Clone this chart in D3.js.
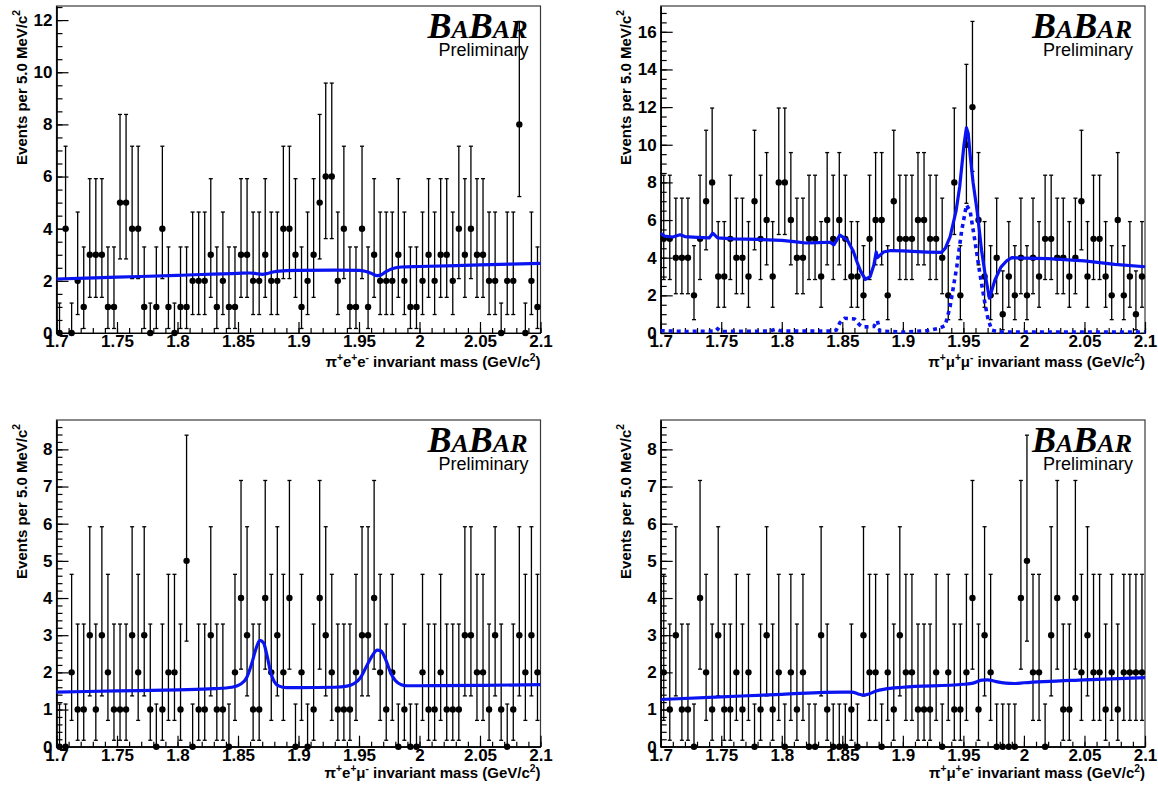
<!DOCTYPE html>
<html><head><meta charset="utf-8">
<script src="https://cdn.jsdelivr.net/npm/d3@7"></script>
<style>body{margin:0;background:#fff}</style>
</head><body><svg id="c" width="1158" height="791"></svg>
<script>
// ---------- data ----------
const massRange = [1.7, 2.1];
const binWidth = 0.005;
const binCenters = d3.range(80).map(i => massRange[0] + binWidth * (i + 0.5));
const xTicks = [1.7, 1.75, 1.8, 1.85, 1.9, 1.95, 2.0, 2.05, 2.1];

const countsEE = [0,4,0,2,1,3,3,3,1,1, 5,5,4,4,1,0,1,4,1,0, 1,1,2,2,2,3,1,2,1,1, 3,3,2,2,3,2,2,4,4,3,
                  1,2,3,5,6,6,2,4,1,1, 4,1,3,2,2,2,3,2,1,1, 2,3,2,3,3,2,4,3,4,3, 3,2,2,0,2,2,8,0,2,1];
const countsMM = [5,5,4,4,4,2,5,7,8,3, 3,5,4,4,3,7,5,6,3,8, 8,6,4,4,5,5,3,6,5,6, 5,3,3,2,5,6,6,2,7,5,
                  5,5,6,6,5,5,4,2,8,2, 10,12,6,3,2,4,1,3,2,4, 2,4,3,5,5,4,4,3,4,7, 3,5,5,3,2,6,2,3,1,3];
const countsEM = [0,0,2,1,1,3,1,3,2,1, 1,1,3,2,3,1,0,1,2,2, 1,5,0,1,1,3,1,1,0,2, 4,3,1,1,4,2,3,2,4,0,
                  2,0,1,4,3,2,1,1,1,2, 3,3,4,2,1,2,0,1,0,0, 2,1,1,2,1,1,1,3,3,2, 2,1,3,1,0,1,3,2,3,2];
const countsME = [2,1,3,1,1,0,4,2,1,3, 1,1,2,1,2,0,1,3,1,2, 0,2,1,2,0,0,3,1,0,0, 0,1,0,3,2,2,0,2,1,3,
                  2,2,1,1,1,2,0,2,1,1, 2,4,1,3,2,0,0,0,0,4, 5,2,2,0,3,4,1,1,4,2, 3,2,2,1,2,1,2,2,2,2];

// Poisson 68% interval edges for n = 0..12
const poissonLo = [0, 0.173, 0.708, 1.367, 2.086, 2.840, 3.620, 4.419, 5.232, 6.057, 6.891, 7.734, 8.585];
const poissonHi = [1.148, 3.300, 4.638, 5.918, 7.163, 8.382, 9.584, 10.77, 11.95, 13.11, 14.27, 15.42, 16.55];

const fitEE = [[1.7,2.07],[1.75,2.14],[1.8,2.21],[1.85,2.29],[1.86,2.30],[1.865,2.28],[1.87,2.25],[1.875,2.29],
  [1.88,2.35],[1.89,2.39],[1.9,2.4],[1.93,2.41],[1.95,2.4],[1.955,2.37],[1.96,2.29],[1.965,2.2],[1.968,2.22],
  [1.972,2.34],[1.978,2.47],[1.985,2.53],[2.0,2.55],[2.05,2.61],[2.1,2.67]];
const fitMM = [[1.7,5.3],[1.703,5.15],[1.71,5.1],[1.716,5.22],[1.72,5.12],[1.73,5.08],[1.74,5.05],[1.743,5.3],
  [1.747,5.05],[1.76,5.0],[1.78,4.97],[1.8,4.92],[1.81,4.85],[1.82,4.78],[1.83,4.8],[1.84,4.82],[1.843,4.68],
  [1.848,5.2],[1.854,4.95],[1.859,4.35],[1.862,3.8],[1.865,3.3],[1.869,2.85],[1.873,3.0],[1.876,3.6],[1.878,4.3],
  [1.879,4.0],[1.884,4.3],[1.89,4.38],[1.9,4.36],[1.92,4.3],[1.932,4.28],[1.935,4.5],[1.939,5.1],[1.944,6.5],
  [1.947,7.8],[1.9505,10.0],[1.9525,10.9],[1.954,10.6],[1.9555,9.5],[1.958,8.0],[1.9615,6.4],[1.965,4.4],
  [1.968,3.1],[1.9715,1.85],[1.976,2.8],[1.981,3.5],[1.986,3.85],[1.99,4.0],[2.0,3.98],[2.02,3.95],[2.05,3.83],
  [2.075,3.65],[2.1,3.52]];
const sigMM = [[1.7,0.12],[1.72,0.08],[1.745,0.1],[1.747,0.22],[1.75,0.08],[1.79,0.1],[1.795,0.2],[1.8,0.1],
  [1.84,0.1],[1.845,0.15],[1.848,0.55],[1.852,0.78],[1.86,0.75],[1.864,0.45],[1.867,0.32],[1.876,0.35],[1.879,0.65],
  [1.881,0.1],[1.9,0.05],[1.92,0.12],[1.93,0.25],[1.935,0.4],[1.939,1.4],[1.9445,3.5],[1.9485,5.4],[1.9525,6.8],
  [1.9555,6.5],[1.9595,4.9],[1.9635,3.2],[1.968,1.5],[1.9705,0.7],[1.9735,0.15],[1.98,0.05],[2.1,0.05]];
const fitEM = [[1.7,1.47],[1.75,1.5],[1.8,1.53],[1.83,1.56],[1.845,1.6],[1.852,1.68],[1.857,1.85],[1.861,2.2],
  [1.865,2.65],[1.868,2.86],[1.871,2.8],[1.874,2.45],[1.877,2.0],[1.88,1.75],[1.884,1.63],[1.89,1.59],[1.9,1.59],
  [1.93,1.6],[1.94,1.63],[1.946,1.7],[1.951,1.85],[1.956,2.15],[1.961,2.45],[1.965,2.6],[1.968,2.58],[1.972,2.35],
  [1.976,2.0],[1.98,1.78],[1.985,1.67],[1.99,1.64],[2.0,1.64],[2.05,1.65],[2.1,1.67]];
const fitME = [[1.7,1.27],[1.75,1.34],[1.8,1.41],[1.85,1.47],[1.858,1.47],[1.863,1.42],[1.867,1.39],[1.872,1.42],
  [1.878,1.5],[1.885,1.55],[1.9,1.6],[1.95,1.68],[1.958,1.71],[1.965,1.79],[1.97,1.8],[1.977,1.75],[1.985,1.71],
  [1.992,1.7],[2.0,1.72],[2.05,1.8],[2.1,1.86]];

const yTitle = [["Events per 5.0 MeV/c",""],["2","sup"]];
const xTitleEE = [["π",""],["+","sup"],["e",""],["+","sup"],["e",""],["-","sup"],[" invariant mass (GeV/c",""],["2","sup"],[")",""]];
const xTitleMM = [["π",""],["+","sup"],["μ",""],["+","sup"],["μ",""],["-","sup"],[" invariant mass (GeV/c",""],["2","sup"],[")",""]];
const xTitleEM = [["π",""],["+","sup"],["e",""],["+","sup"],["μ",""],["-","sup"],[" invariant mass (GeV/c",""],["2","sup"],[")",""]];
const xTitleME = [["π",""],["+","sup"],["μ",""],["+","sup"],["e",""],["-","sup"],[" invariant mass (GeV/c",""],["2","sup"],[")",""]];

// ---------- layout ----------
const panels = [
  {left:56.5, right:540.5, top:6, bottom:333, ymax:12.54, major:2, minor:0.5, counts:countsEE, fit:fitEE, sig:null, xt:xTitleEE, xtY:367, smooth:true},
  {left:660.7, right:1145, top:6, bottom:333, ymax:17.37, major:2, minor:0.5, counts:countsMM, fit:fitMM, sig:sigMM, xt:xTitleMM, xtY:367, smooth:false},
  {left:56.5, right:540.5, top:420, bottom:746.7, ymax:8.79, major:1, minor:0.2, counts:countsEM, fit:fitEM, sig:null, xt:xTitleEM, xtY:778, smooth:true},
  {left:660.7, right:1145, top:420, bottom:746.7, ymax:8.79, major:1, minor:0.2, counts:countsME, fit:fitME, sig:null, xt:xTitleME, xtY:778, smooth:true}
];

const svg = d3.select('#c');
const SANS = "'Liberation Sans', Arial, Helvetica, sans-serif";
const SERIF = "'Liberation Serif', 'Times New Roman', serif";
const BLUE = "#0a14f0";

function richText(sel, tokens, size) {
  let shifted = false;
  tokens.forEach(([t, kind]) => {
    const ts = sel.append('tspan').text(t);
    if (kind === 'sup') {
      ts.attr('font-size', size * 0.68).attr('dy', shifted ? 0 : -size * 0.42);
      shifted = true;
    } else {
      if (shifted) ts.attr('dy', size * 0.42);
      shifted = false;
    }
  });
}

panels.forEach(p => {
  const x = d3.scaleLinear().domain(massRange).range([p.left, p.right]);
  const y = d3.scaleLinear().domain([0, p.ymax]).range([p.bottom, p.top]);
  const g = svg.append('g');

  // frame
  g.append('rect').attr('x', p.left).attr('y', p.top)
    .attr('width', p.right - p.left).attr('height', p.bottom - p.top)
    .attr('fill', 'none').attr('stroke', '#3a3a3a').attr('stroke-width', 1.2);

  // logo (under data)
  const logo = g.append('text').attr('x', p.right - 13).attr('y', p.top + 31.5)
    .attr('text-anchor', 'end').attr('font-family', SERIF).attr('font-style', 'italic')
    .attr('font-weight', 'bold').attr('fill', '#000');
  [["B",36],["A",26],["B",36],["A",26],["R",26]].forEach(([c, s]) => logo.append('tspan').attr('font-size', s).text(c));
  g.append('text').attr('x', p.right - 12).attr('y', p.top + 49.5).attr('text-anchor', 'end')
    .attr('font-family', SANS).attr('font-size', 18).attr('fill', '#000').text('Preliminary');

  // y axis
  const yMajor = d3.range(0, p.ymax + 1e-9, p.major);
  const yMinor = d3.range(0, p.ymax + 1e-9, p.minor);
  const ya = g.append('g').attr('transform', `translate(${p.left},0)`);
  ya.call(d3.axisLeft(y).tickValues(yMinor).tickSizeInner(-6).tickSizeOuter(0).tickFormat(''));
  const yb = g.append('g').attr('transform', `translate(${p.left},0)`);
  yb.call(d3.axisLeft(y).tickValues(yMajor).tickSizeInner(-12).tickSizeOuter(0).tickPadding(4).tickFormat(d3.format('d')));
  [ya, yb].forEach(s => { s.select('.domain').attr('stroke', '#000').attr('stroke-width', 1.2); s.selectAll('line').attr('stroke', '#000').attr('stroke-width', 1.2); });
  yb.selectAll('text').attr('font-family', SANS).attr('font-weight', 'bold').attr('font-size', 17).attr('fill', '#000');

  // x axis
  const xMinor = d3.range(0, 41).map(i => massRange[0] + i * 0.01);
  const xa = g.append('g').attr('transform', `translate(0,${p.bottom})`);
  xa.call(d3.axisBottom(x).tickValues(xMinor).tickSizeInner(-5).tickSizeOuter(0).tickFormat(''));
  const xb = g.append('g').attr('transform', `translate(0,${p.bottom})`);
  xb.call(d3.axisBottom(x).tickValues(xTicks).tickSizeInner(-11).tickSizeOuter(0).tickPadding(2)
    .tickFormat(d => String(+d.toFixed(2))));
  [xa, xb].forEach(s => { s.select('.domain').attr('stroke', '#000').attr('stroke-width', 1.2); s.selectAll('line').attr('stroke', '#000').attr('stroke-width', 1.2); });
  xb.selectAll('text').attr('font-family', SANS).attr('font-weight', 'bold').attr('font-size', 17).attr('fill', '#000');

  // titles
  const yt = g.append('text').attr('transform', `translate(${p.left - 30},${p.top + 4}) rotate(-90)`)
    .attr('text-anchor', 'end').attr('font-family', SANS).attr('font-weight', 'bold').attr('font-size', 15).attr('fill', '#000');
  richText(yt, yTitle, 15);
  const xt = g.append('text').attr('x', p.right).attr('y', p.xtY).attr('text-anchor', 'end')
    .attr('font-family', SANS).attr('font-weight', 'bold').attr('font-size', 15).attr('fill', '#000');
  richText(xt, p.xt, 15);

  // data points with Poisson error bars
  const pts = g.append('g');
  p.counts.forEach((n, i) => {
    const cx = x(binCenters[i]);
    const y1 = y(poissonLo[n]), y2 = y(poissonHi[n]);
    pts.append('line').attr('x1', cx).attr('x2', cx).attr('y1', y1).attr('y2', y2).attr('stroke', '#000').attr('stroke-width', 1.3);
    pts.append('line').attr('x1', cx - 2).attr('x2', cx + 2).attr('y1', y2).attr('y2', y2).attr('stroke', '#000').attr('stroke-width', 1.3);
    if (n > 0) pts.append('line').attr('x1', cx - 2).attr('x2', cx + 2).attr('y1', y1).attr('y2', y1).attr('stroke', '#000').attr('stroke-width', 1.3);
    pts.append('circle').attr('cx', cx).attr('cy', y(n)).attr('r', 3.2).attr('fill', '#000');
  });

  // curves
  const line = d3.line().x(d => x(d[0])).y(d => y(d[1])).curve(p.smooth ? d3.curveMonotoneX : d3.curveLinear);
  if (p.sig) {
    g.append('path').attr('d', line(p.sig)).attr('fill', 'none').attr('stroke', BLUE)
      .attr('stroke-width', 3.6).attr('stroke-dasharray', '4,4');
  }
  g.append('path').attr('d', line(p.fit)).attr('fill', 'none').attr('stroke', BLUE)
    .attr('stroke-width', 3.2).attr('stroke-linejoin', 'round');
});
</script>
</body></html>
